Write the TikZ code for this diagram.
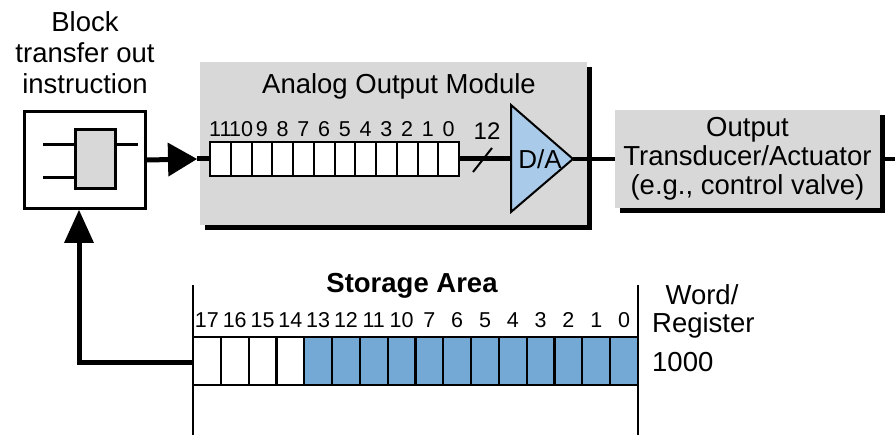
\documentclass[tikz,border=0pt]{standalone}
\usepackage{fontspec}
\setmainfont{Liberation Sans}
\usetikzlibrary{arrows.meta,shadows}
\definecolor{boxgray}{RGB}{216,216,216}
\definecolor{regblue}{RGB}{116,169,214}
\definecolor{dablue}{RGB}{169,202,233}
\newcommand\fbig{\fontsize{27.5}{29}\selectfont}
\newcommand\fsmall{\fontsize{21.5}{23}\selectfont}
\tikzset{
  fat/.style={line width=5pt},
  tcell/.style={draw, line width=2pt, fill=white, minimum width=20.75pt, minimum height=34pt, inner sep=0pt, outer sep=0pt},
  scell/.style={draw, line width=2.2pt, minimum width=27.81pt, minimum height=48pt, inner sep=0pt, outer sep=0pt},
  bitlbl/.style={font=\fsmall, anchor=base, inner sep=0pt},
  bigtxt/.style={font=\fbig, inner sep=0pt},
  grayshadowbox/.style={fill=boxgray, inner sep=0pt, general shadow={fill=black, shadow xshift=5pt, shadow yshift=-5pt}},
  tipA/.style={-{Triangle[length=29pt,width=34pt,line width=0pt]}},
  tipB/.style={-{Triangle[length=33pt,width=30pt,line width=0pt]}},
}
\begin{document}
\begin{tikzpicture}[x=1pt,y=-1pt]
\useasboundingbox (0,0) rectangle (895,435);
% caption of block
\node[bigtxt, anchor=base] (bt1) at (85,31.7) {Block};
\node[bigtxt, anchor=base] (bt2) at (85,62.5) {transfer out};
\node[bigtxt, anchor=base] (bt3) at (85,93.5) {instruction};
% block transfer instruction box
\node[draw, line width=3pt, fill=white, minimum width=121pt, minimum height=97pt, inner sep=0pt] (bto) at (85,160) {};
\node[draw, line width=3pt, fill=boxgray, minimum width=40pt, minimum height=59pt, inner sep=0pt] (inner) at (95.5,159) {};
\coordinate (l1) at (43,145);
\coordinate (l2) at (43,178);
\coordinate (r1) at (138,145);
\draw[line width=3pt] (l1) -- (l1 -| inner.west);
\draw[line width=3pt] (l2) -- (l2 -| inner.west);
\draw[line width=3pt] (r1 -| inner.east) -- (r1);
% analog output module
\node[grayshadowbox, minimum width=387pt, minimum height=163pt] (aom) at (393.5,143.5) {};
\node[bigtxt, anchor=base] (aomt) at (399,94) {Analog Output Module};
\foreach \b [count=\i from 0] in {11,10,9,8,7,6,5,4,3,2,1,0} {
  \node[tcell] (t\i) at ({210+20.75*(\i+0.5)},159) {};
  \node[bitlbl] (tl\i) at ({210+20.75*(\i+0.5)},137) {\b};
}
% D/A converter
\coordinate (dat) at (511,105);
\coordinate (dab) at (511,212);
\coordinate (daa) at (573,159);
\coordinate (dal) at (511,159);
\draw[line width=2pt, fill=dablue, line join=miter] (dat) -- (daa) -- (dab) -- cycle;
\node[font=\fontsize{26}{28}\selectfont, inner sep=0pt] (da) at (540,159) {D/A};
\draw[fat] (t11.east) -- (dal);
\draw[line width=2pt] (473,172) -- (492,148);
\node[font=\fontsize{24}{26}\selectfont, anchor=base, inner sep=0pt] (n12) at (487,140) {12};
% output transducer
\node[grayshadowbox, minimum width=265pt, minimum height=98pt, align=center, font=\fbig] (out) at (747.5,159) {Output\\Transducer/Actuator\\(e.g., control valve)};
\draw[line width=4.5pt] (daa) -- (out.west);
\coordinate (rend) at (895,159);
\draw[line width=4.5pt] ([xshift=5pt]out.east) -- (rend);
% arrow into the module register
\coordinate (ahtip) at (197,159);
\draw[fat, tipA] (bto.east) -- (ahtip);
\draw[fat] (ahtip) -- (t0.west);
% storage area
\node[font=\bfseries\fbig, anchor=base, inner sep=0pt] (sa) at (412,293) {Storage Area};
\foreach \b [count=\i from 0] in {17,16,15,14,13,12,11,10,7,6,5,4,3,2,1,0} {
  \ifnum\i<4 \def\cfill{white}\else\def\cfill{regblue}\fi
  \node[scell, fill=\cfill] (s\i) at ({193+27.8125*(\i+0.5)},361) {};
  \node[bitlbl] (sl\i) at ({193+27.8125*(\i+0.5)},328) {\b};
}
\coordinate (vl1) at (193,285);
\coordinate (vl2) at (193,435);
\coordinate (vr1) at (638,285);
\coordinate (vr2) at (638,435);
\draw[line width=2pt] (vl1) -- (vl2);
\draw[line width=2pt] (vr1) -- (vr2);
\node[bigtxt, anchor=base] (w1) at (702,305) {Word/};
\node[bigtxt, anchor=base west] (w2) at (652,333) {Register};
\node[bigtxt, anchor=base west] (w3) at (652,372) {1000};
% feedback arrow
\draw[fat, tipB] ([yshift=-2pt]s0.west) -| ([xshift=-6pt]bto.south);
\end{tikzpicture}
\end{document}
